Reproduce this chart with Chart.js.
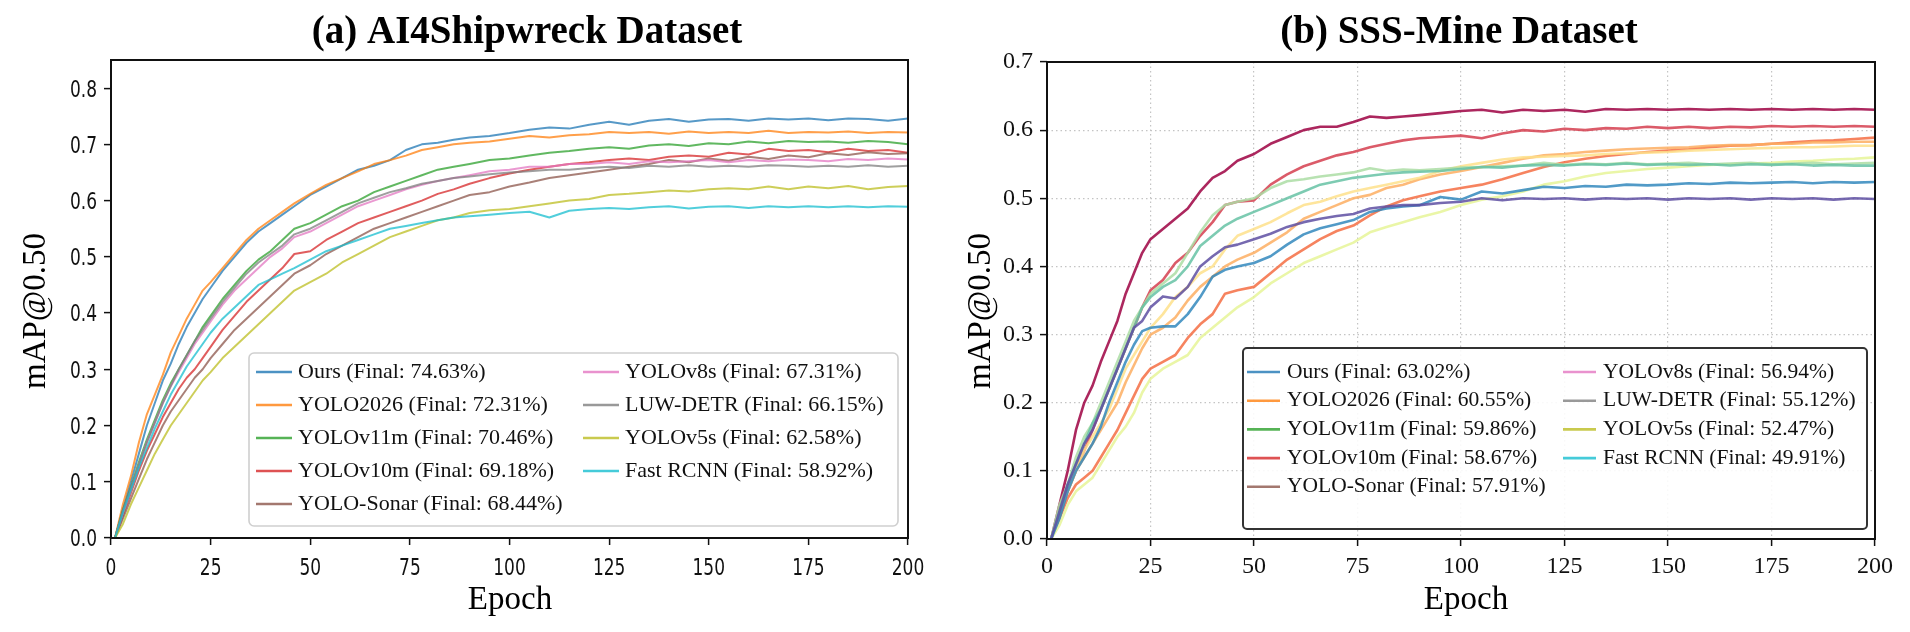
<!DOCTYPE html>
<html>
<head>
<meta charset="utf-8">
<title>mAP@0.50 curves</title>
<script src="https://cdn.jsdelivr.net/npm/chart.js@4.4.1/dist/chart.umd.min.js"></script>
<style>
  html, body { margin: 0; padding: 0; background: #fff; }
  #wrap { position: relative; width: 1910px; height: 632px; overflow: hidden; }
  canvas { position: absolute; top: 0; }
  #chartA { left: 0; }
  #chartB { left: 955px; }
</style>
</head>
<body>
<div id="wrap">
  <canvas id="chartA" width="955" height="632"></canvas>
  <canvas id="chartB" width="955" height="632"></canvas>
</div>
<script>
// ---------- data ----------
const EPOCHS = [1,3,5,7,9,11,13,15,17,19,21,23,25,28,31,34,37,40,43,46,50,54,58,62,66,70,74,78,82,86,90,95,100,105,110,115,120,125,130,135,140,145,150,155,160,165,170,175,180,185,190,195,200];
const X_TICKS = [0,25,50,75,100,125,150,175,200];
const Y_TICKS_A = [0,0.1,0.2,0.3,0.4,0.5,0.6,0.7,0.8];
const Y_TICKS_B = [0,0.1,0.2,0.3,0.4,0.5,0.6,0.7];

const MODELS = ['Ours','YOLO2026','YOLOv11m','YOLOv10m','YOLO-Sonar','YOLOv8s','LUW-DETR','YOLOv5s','Fast RCNN'];
const FINAL_A = ['74.63','72.31','70.46','69.18','68.44','67.31','66.15','62.58','58.92'];
const FINAL_B = ['63.02','60.55','59.86','58.67','57.91','56.94','55.12','52.47','49.91'];

// (a) AI4Shipwreck
const A_OURS   = [0,.05,.10,.15,.20,.24,.28,.31,.345,.375,.40,.425,.445,.475,.50,.525,.545,.56,.575,.59,.61,.625,.64,.655,.662,.672,.69,.70,.703,.708,.712,.715,.72,.726,.73,.728,.735,.74,.735,.742,.745,.74,.744,.745,.742,.746,.744,.746,.743,.746,.745,.742,.746];
const A_Y2026  = [0,.06,.11,.17,.22,.255,.29,.33,.36,.39,.415,.44,.455,.48,.505,.53,.55,.565,.58,.595,.612,.628,.64,.652,.665,.672,.68,.69,.695,.70,.703,.705,.71,.715,.712,.716,.718,.722,.72,.722,.719,.723,.72,.722,.72,.724,.72,.722,.721,.723,.72,.722,.721];
const A_V11M   = [0,.05,.09,.135,.175,.21,.245,.275,.30,.325,.35,.375,.395,.425,.45,.475,.495,.51,.53,.55,.56,.575,.59,.60,.615,.625,.635,.645,.655,.66,.665,.672,.675,.68,.685,.688,.692,.695,.692,.698,.70,.697,.702,.70,.705,.702,.706,.704,.705,.703,.706,.704,.70];
const A_V10M   = [0,.04,.08,.12,.155,.185,.215,.24,.265,.285,.30,.32,.34,.37,.395,.42,.44,.46,.48,.505,.51,.53,.545,.56,.57,.58,.59,.60,.612,.62,.63,.64,.648,.655,.66,.665,.668,.672,.675,.672,.678,.68,.678,.685,.682,.692,.688,.69,.686,.692,.688,.69,.685];
const A_SONAR  = [0,.035,.07,.105,.14,.17,.20,.225,.245,.265,.285,.30,.32,.345,.37,.39,.41,.43,.45,.47,.485,.505,.52,.535,.55,.56,.57,.58,.59,.60,.61,.615,.625,.632,.64,.645,.65,.655,.66,.665,.672,.668,.675,.671,.678,.674,.68,.677,.684,.681,.686,.683,.684];
const A_V8S    = [0,.045,.085,.13,.17,.205,.24,.27,.295,.32,.345,.365,.385,.415,.44,.46,.48,.50,.515,.535,.545,.56,.575,.59,.60,.61,.62,.628,.635,.64,.645,.652,.655,.66,.66,.665,.665,.668,.665,.67,.668,.67,.672,.668,.672,.67,.673,.672,.67,.674,.672,.675,.673];
const A_LUW    = [0,.05,.09,.13,.17,.205,.24,.27,.30,.325,.35,.37,.39,.42,.445,.47,.49,.505,.52,.54,.55,.565,.58,.595,.605,.615,.622,.63,.635,.64,.643,.647,.65,.652,.655,.655,.658,.66,.658,.662,.66,.663,.66,.662,.66,.663,.662,.66,.662,.66,.663,.66,.662];
const A_V5S    = [0,.025,.06,.09,.12,.15,.175,.20,.22,.24,.26,.28,.295,.32,.34,.36,.38,.40,.42,.44,.455,.47,.49,.505,.52,.535,.545,.555,.565,.57,.578,.583,.585,.59,.595,.60,.603,.61,.612,.615,.618,.616,.62,.622,.62,.625,.62,.625,.622,.626,.62,.624,.626];
const A_FRCNN  = [0,.045,.085,.125,.16,.195,.225,.255,.28,.305,.325,.345,.365,.39,.41,.43,.45,.46,.47,.48,.495,.51,.52,.53,.54,.55,.555,.56,.565,.57,.572,.575,.578,.58,.57,.582,.585,.587,.585,.588,.59,.586,.589,.59,.587,.59,.588,.59,.588,.59,.588,.59,.589];

// (b) SSS-Mine
const B_OURS   = [0,.05,.10,.16,.20,.225,.26,.29,.32,.36,.39,.42,.44,.455,.47,.485,.51,.53,.54,.555,.565,.58,.59,.60,.605,.605,.612,.62,.618,.62,.622,.625,.628,.63,.626,.63,.628,.63,.627,.631,.63,.631,.63,.631,.63,.631,.63,.631,.63,.631,.63,.631,.63];
const B_Y2026  = [0,.04,.07,.10,.13,.16,.19,.22,.25,.28,.31,.34,.365,.38,.405,.42,.445,.465,.49,.495,.497,.52,.535,.547,.555,.563,.568,.575,.58,.585,.588,.59,.592,.588,.595,.60,.598,.602,.60,.603,.602,.605,.603,.605,.603,.605,.604,.606,.605,.606,.605,.606,.605];
const B_V11M   = [0,.03,.06,.08,.09,.10,.12,.14,.16,.185,.21,.235,.25,.26,.27,.295,.315,.33,.36,.365,.37,.39,.41,.425,.44,.452,.46,.475,.488,.497,.503,.51,.515,.52,.528,.537,.546,.553,.558,.562,.565,.568,.57,.572,.575,.577,.578,.58,.582,.584,.585,.587,.589];
const B_V10M   = [0,.04,.07,.10,.12,.14,.16,.18,.20,.23,.255,.28,.30,.31,.325,.35,.37,.385,.40,.41,.42,.435,.45,.47,.48,.49,.50,.505,.515,.52,.528,.535,.54,.546,.552,.558,.563,.565,.568,.57,.572,.573,.574,.575,.577,.578,.578,.58,.58,.582,.582,.583,.583];
const B_SONAR  = [0,.04,.07,.10,.13,.15,.17,.19,.22,.25,.27,.29,.31,.33,.355,.37,.39,.40,.425,.445,.455,.465,.478,.49,.495,.503,.51,.515,.52,.525,.53,.54,.547,.552,.557,.56,.561,.562,.563,.565,.566,.567,.568,.57,.571,.572,.573,.574,.575,.575,.576,.577,.577];
const B_V8S    = [0,.02,.05,.07,.08,.09,.11,.13,.15,.165,.185,.215,.235,.25,.26,.27,.295,.31,.325,.34,.355,.375,.39,.405,.415,.425,.435,.45,.458,.465,.472,.48,.49,.498,.503,.51,.52,.525,.532,.537,.54,.543,.545,.547,.549,.55,.551,.552,.554,.555,.557,.558,.56];
const B_LUW    = [0,.05,.08,.12,.15,.17,.20,.23,.26,.29,.32,.34,.36,.375,.39,.42,.45,.475,.49,.495,.50,.515,.525,.528,.532,.535,.538,.544,.54,.542,.541,.543,.545,.546,.547,.548,.552,.549,.551,.55,.552,.55,.551,.552,.55,.551,.552,.55,.551,.552,.55,.551,.552];
const B_EXTRA  = [0,.04,.08,.11,.14,.17,.19,.22,.25,.28,.31,.34,.355,.37,.38,.40,.43,.445,.46,.47,.48,.49,.50,.51,.52,.525,.53,.533,.536,.538,.539,.54,.543,.546,.545,.548,.549,.548,.55,.549,.551,.549,.55,.549,.55,.548,.55,.549,.55,.548,.549,.548,.548];
const B_V5S    = [0,.03,.07,.10,.12,.14,.165,.20,.23,.26,.285,.305,.31,.312,.312,.33,.355,.385,.395,.40,.405,.415,.432,.447,.456,.462,.468,.48,.485,.488,.49,.502,.498,.51,.507,.512,.517,.515,.518,.517,.52,.519,.52,.522,.521,.523,.522,.523,.524,.522,.524,.523,.524];
const B_FRCNN  = [0,.04,.08,.11,.14,.16,.19,.22,.25,.28,.31,.32,.34,.356,.353,.37,.40,.415,.428,.432,.44,.448,.458,.465,.47,.474,.477,.485,.488,.49,.49,.493,.495,.50,.497,.50,.499,.50,.498,.50,.499,.50,.498,.50,.499,.50,.498,.50,.499,.50,.498,.50,.499];

const SERIES_A = [A_OURS, A_Y2026, A_V11M, A_V10M, A_SONAR, A_V8S, A_LUW, A_V5S, A_FRCNN];
const SERIES_B = [B_OURS, B_Y2026, B_V11M, B_V10M, B_SONAR, B_V8S, B_LUW, B_EXTRA, B_V5S, B_FRCNN];

// ---------- styles ----------
const TAB10 = ['#1f77b4','#ff7f0e','#2ca02c','#d62728','#8c564b','#e377c2','#7f7f7f','#bcbd22','#17becf'];
const SPECTRAL = ['#9e0142','#d53e4f','#f46d43','#fdae61','#fee08b','#e6f598','#abdda4','#66c2a5','#3288bd','#5e4fa2'];
const SERIF = '"Liberation Serif", "Times New Roman", serif';
const SANS = '"DejaVu Sans", sans-serif';

function withAlpha(hex, a) {
    const n = parseInt(hex.slice(1), 16);
    return `rgba(${n >> 16}, ${(n >> 8) & 255}, ${n & 255}, ${a})`;
}

// condensed tick text (panel a uses a squeezed sans face)
function drawNarrow(ctx, s, x, y, align) {
    ctx.save();
    ctx.translate(x, y);
    ctx.scale(0.74, 1);
    ctx.textAlign = align;
    ctx.textBaseline = 'alphabetic';
    ctx.fillText(s, 0, 0);
    ctx.restore();
}

// frame, titles and the in-plot legend
const panelDecor = {
    id: 'panelDecor',
    afterDraw(chart, args, o) {
        const ctx = chart.ctx;
        const a = chart.chartArea;
        ctx.save();

        ctx.strokeStyle = '#111';
        ctx.lineWidth = 2;
        ctx.strokeRect(a.left, a.top, a.right - a.left, a.bottom - a.top);

        if (o.narrowTicks) {
            const xs = chart.scales.x, ys = chart.scales.y;
            ctx.fillStyle = '#111';
            ctx.font = `23px ${SANS}`;
            xs.ticks.forEach(t => drawNarrow(ctx, String(t.value), xs.getPixelForValue(t.value), a.bottom + 37, 'center'));
            ys.ticks.forEach(t => drawNarrow(ctx, t.value.toFixed(1), a.left - 14, ys.getPixelForValue(t.value) + 8.4, 'right'));
        }

        ctx.fillStyle = '#000';
        ctx.textAlign = 'center';
        ctx.textBaseline = 'alphabetic';
        ctx.font = `bold 39px ${SERIF}`;
        ctx.fillText(o.title, o.titleX, 43);

        ctx.font = `33px ${SERIF}`;
        ctx.fillText('Epoch', o.xTitleX, 609);

        ctx.save();
        ctx.translate(o.yTitleX, 311);
        ctx.rotate(-Math.PI / 2);
        ctx.fillText('mAP@0.50', 0, 0);
        ctx.restore();

        // legend
        const L = o.legend;
        ctx.beginPath();
        ctx.roundRect(L.x, L.y, L.w, L.h, L.radius);
        ctx.fillStyle = 'rgba(255,255,255,0.9)';
        ctx.fill();
        ctx.strokeStyle = L.edge;
        ctx.lineWidth = L.edgeWidth;
        ctx.stroke();

        ctx.font = `${L.fontSize}px ${SERIF}`;
        ctx.textAlign = 'left';
        ctx.textBaseline = 'middle';
        MODELS.forEach((name, i) => {
            const col = i < 5 ? 0 : 1;
            const row = i < 5 ? i : i - 5;
            const y = L.rowY + row * L.rowGap;
            const x0 = L.colX[col];
            ctx.strokeStyle = withAlpha(TAB10[i], 0.8);
            ctx.lineWidth = 2.6;
            ctx.beginPath();
            ctx.moveTo(x0, y);
            ctx.lineTo(x0 + L.lineLen, y);
            ctx.stroke();
            ctx.fillStyle = '#111';
            ctx.fillText(`${name} (Final: ${o.finals[i]}%)`, x0 + L.lineLen + L.textGap, y);
        });
        ctx.restore();
    }
};

function buildChart(id, cfg) {
    const datasets = cfg.series.map((vals, i) => ({
        label: cfg.labels[i] || '',
        data: EPOCHS.map((e, k) => ({ x: e, y: vals[k] })),
        borderColor: withAlpha(cfg.colors[i], cfg.alpha),
        borderWidth: cfg.lineWidth,
        borderJoinStyle: 'round',
        pointRadius: 0,
        tension: 0,
        fill: false,
        order: cfg.series.length - i
    }));

    const tickFont = { family: cfg.tickFamily, size: 24 };
    // panel a: library labels kept for layout but painted by panelDecor in a condensed face
    const tickColor = cfg.decor.narrowTicks ? 'rgba(0,0,0,0)' : '#111';

    return new Chart(document.getElementById(id), {
        type: 'line',
        data: { datasets },
        plugins: [panelDecor],
        options: {
            responsive: false,
            animation: false,
            devicePixelRatio: 1,
            layout: { padding: { left: 0, top: cfg.top, right: cfg.right, bottom: 0 } },
            plugins: {
                legend: { display: false },
                tooltip: { enabled: false },
                panelDecor: cfg.decor
            },
            scales: {
                x: {
                    type: 'linear',
                    min: 0,
                    max: 200,
                    afterBuildTicks: s => { s.ticks = X_TICKS.map(v => ({ value: v })); },
                    afterFit: s => { s.height = cfg.xAxisH; },
                    ticks: { font: tickFont, color: tickColor, padding: 6, maxRotation: 0, autoSkip: false, callback: v => String(v) },
                    grid: { drawOnChartArea: cfg.grid, color: '#c4c4c4', lineWidth: 1.2, tickLength: 7, tickColor: '#111', tickWidth: 1.5, tickBorderDash: [] },
                    border: { display: false, dash: [1.5, 3] }
                },
                y: {
                    type: 'linear',
                    min: 0,
                    max: cfg.yMax,
                    afterBuildTicks: s => { s.ticks = cfg.yTicks.map(v => ({ value: v })); },
                    afterFit: s => { s.width = cfg.yAxisW; },
                    ticks: { font: tickFont, color: tickColor, padding: 7, callback: v => v.toFixed(1) },
                    grid: { drawOnChartArea: cfg.grid, color: '#c4c4c4', lineWidth: 1.2, tickLength: 7, tickColor: '#111', tickWidth: 1.5, tickBorderDash: [] },
                    border: { display: false, dash: [1.5, 3] }
                }
            }
        }
    });
}

buildChart('chartA', {
    series: SERIES_A,
    labels: MODELS,
    colors: TAB10,
    alpha: 0.75,
    lineWidth: 2,
    yMax: 0.85,
    yTicks: Y_TICKS_A,
    grid: false,
    tickFamily: SANS,
    top: 60, right: 47, xAxisH: 94, yAxisW: 111,
    decor: {
        title: '(a) AI4Shipwreck Dataset', titleX: 527, xTitleX: 510, yTitleX: 45,
        finals: FINAL_A,
        narrowTicks: true,
        legend: { x: 249, y: 353, w: 649, h: 173, radius: 5, edge: '#cfcfcf', edgeWidth: 1.6,
                  fontSize: 22, rowY: 372, rowGap: 33, colX: [256, 583], lineLen: 36, textGap: 6 }
    }
});

buildChart('chartB', {
    series: SERIES_B,
    labels: MODELS,
    colors: SPECTRAL,
    alpha: 0.85,
    lineWidth: 2.6,
    yMax: 0.7,
    yTicks: Y_TICKS_B,
    grid: true,
    tickFamily: SERIF,
    top: 62, right: 35, xAxisH: 93, yAxisW: 92,
    decor: {
        title: '(b) SSS-Mine Dataset', titleX: 504, xTitleX: 511, yTitleX: 35,
        finals: FINAL_B,
        narrowTicks: false,
        legend: { x: 288, y: 348, w: 624, h: 181, radius: 4, edge: '#333', edgeWidth: 2,
                  fontSize: 21.5, rowY: 372, rowGap: 28.7, colX: [292, 608], lineLen: 33, textGap: 7 }
    }
});
</script>
</body>
</html>
